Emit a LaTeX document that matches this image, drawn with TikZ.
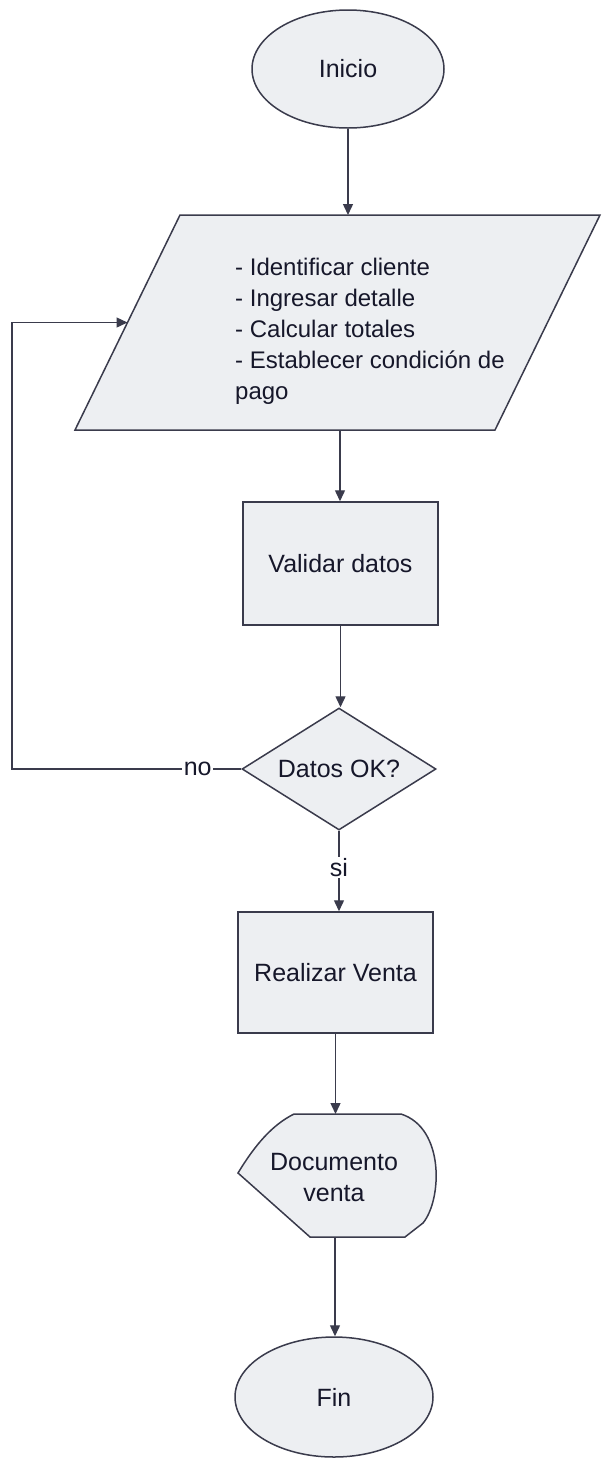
\documentclass[tikz,border=0pt]{standalone}
\usepackage{fontspec}
\setmainfont{Liberation Sans}
\usetikzlibrary{shapes.geometric,arrows.meta}

\definecolor{shapefill}{HTML}{EDEFF2}
\definecolor{shapeline}{HTML}{3A3B4C}
\definecolor{inktext}{HTML}{16172A}

\tikzset{
  base/.style={draw=shapeline, fill=shapefill, line width=1.5pt, text=inktext,
               font=\fontsize{25}{31}\selectfont, inner sep=0pt},
  terminal/.style={base, ellipse},
  process/.style={base, rectangle},
  decision/.style={base, diamond, aspect=1.6},
  flow/.style={draw=shapeline, line width=1.4pt, -{Triangle[length=11pt,width=10pt]}},
  lbl/.style={fill=white, text=inktext, inner sep=1.5pt, font=\fontsize{25}{31}\selectfont},
}

\begin{document}
\begin{tikzpicture}[x=1pt, y=-1pt]
  \useasboundingbox (0,0) rectangle (605,1460);

  % start / end terminals
  \node[terminal, minimum width=192pt, minimum height=118pt] (inicio) at (348,69) {Inicio};
  \node[terminal, minimum width=198pt, minimum height=120pt] (fin) at (334,1397) {Fin};

  % data entry parallelogram and its list of steps
  \coordinate (entradaN) at (343,215);
  \coordinate (entradaS) at (340,430);
  \coordinate (entradaW) at (127.5,322.5);
  \path[base] (75,430) -- (180,215) -- (600,215) -- (495,430) -- cycle;
  \node[anchor=west, align=left, text=inktext, inner sep=0pt,
        font=\fontsize{24}{31}\selectfont] (pasos) at (235,331)
       {- Identificar cliente\\- Ingresar detalle\\- Calcular totales\\- Establecer condición de\\pago};

  % processing steps
  \node[process, minimum width=195pt, minimum height=123pt] (validar) at (340.5,563.5) {Validar datos};
  \node[decision, minimum width=194pt, minimum height=122pt] (ok) at (339,769) {Datos OK?};
  \node[process, minimum width=195pt, minimum height=121pt] (venta) at (335.5,972.5) {Realizar Venta};

  % display-style document symbol
  \coordinate (docN) at (335,1114);
  \coordinate (docS) at (335,1237);
  \path[base] (238,1173) .. controls (255,1145) and (272,1125) .. (294,1114)
    -- (401,1114) .. controls (445,1128) and (442,1200) .. (423,1223)
    -- (405,1237) -- (310,1237) -- cycle;
  \node[align=center, text=inktext, inner sep=0pt,
        font=\fontsize{25}{31}\selectfont] (doc) at (334,1178) {Documento\\venta};

  % loop-back column on the left
  \coordinate (loopX) at (12,0);

  % connectors
  \draw[flow] (inicio.south) -- (inicio.south |- entradaN);
  \draw[flow] (entradaS) -- (entradaS |- validar.north);
  \draw[flow] (validar.south) -- (validar.south |- ok.north);
  \draw[flow] (ok.south) -- node[lbl, pos=0.46] (si) {si} (ok.south |- venta.north);
  \draw[flow] (venta.south) -- (venta.south |- docN);
  \draw[flow] (docS) -- (docS |- fin.north);
  \draw[flow] (ok.west) -- node[lbl, pos=0.19] (no) {no} (ok.west -| loopX)
              |- (entradaW);
\end{tikzpicture}
\end{document}
